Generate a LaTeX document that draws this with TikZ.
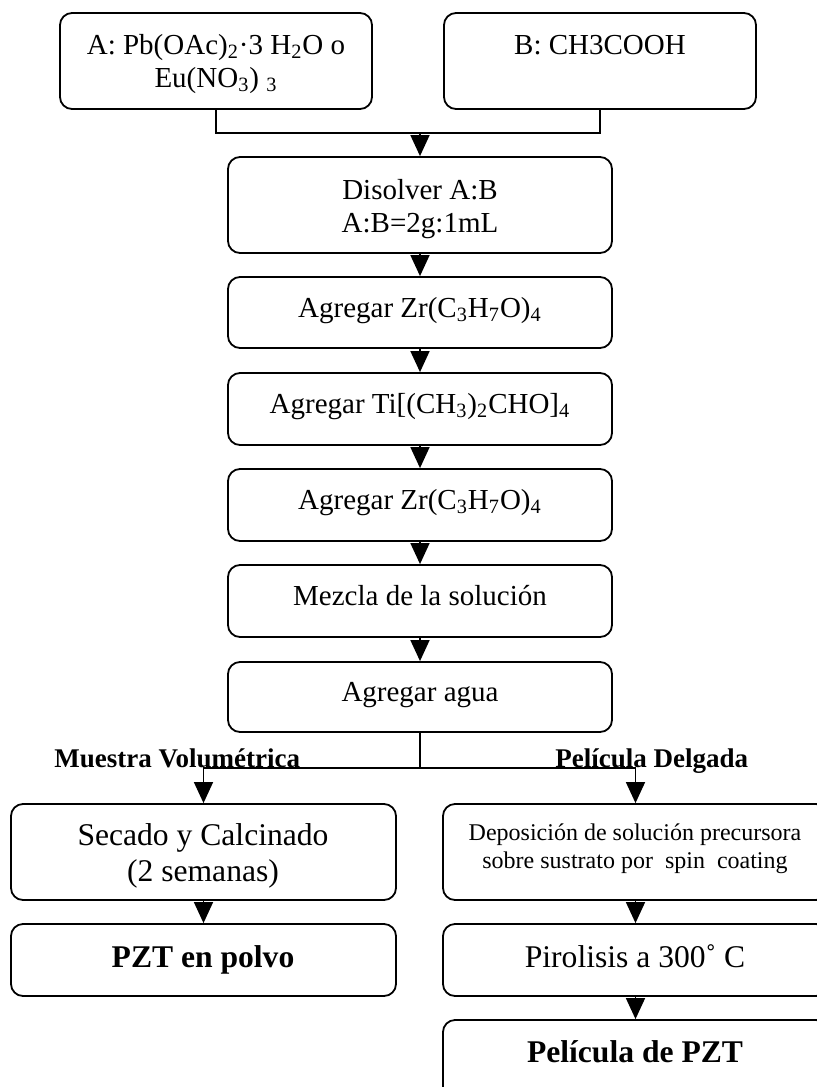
\documentclass[tikz,border=0pt]{standalone}
\usepackage{fontspec}
\setmainfont{Liberation Serif}
\usetikzlibrary{arrows.meta}
\begin{document}
\begin{tikzpicture}[x=0.5pt,y=-0.5pt,
  box/.style={draw, line width=0.9pt, rounded corners=6pt, inner sep=0pt, fill=white, minimum width=#1},
  box/.default=192pt,
  conn/.style={line width=0.75pt},
  arr/.style={line width=0.75pt, -{Triangle[length=10.5pt,width=9.5pt]}},
  txt/.style={anchor=base, inner sep=0pt, font=\fontsize{14.5}{16}\selectfont},
  bigtxt/.style={anchor=base, inner sep=0pt, font=\fontsize{15.8}{18}\selectfont},
  smalltxt/.style={anchor=base, inner sep=0pt, font=\fontsize{12}{14}\selectfont},
  labtxt/.style={anchor=base west, inner sep=0pt, font=\fontsize{13.5}{15}\selectfont\bfseries}]
\useasboundingbox (0,0) rectangle (817,1087);
\clip (0,0) rectangle (817,1087);
% boxes
\node[box=156pt, minimum height=48pt] (A) at (216,61) {};
\node[box=156pt, minimum height=48pt] (B) at (600,61) {};
\node[box, minimum height=48pt] (D) at (420,205) {};
\node[box, minimum height=35.5pt] (Z1) at (420,312.5) {};
\node[box, minimum height=36pt] (Ti) at (420,409) {};
\node[box, minimum height=36pt] (Z2) at (420,505) {};
\node[box, minimum height=36pt] (M) at (420,601) {};
\node[box, minimum height=35pt] (W) at (420,697) {};
\node[box=192.5pt, minimum height=48pt] (S) at (203.5,852) {};
\node[box=192.5pt, minimum height=36pt] (P) at (203.5,960) {};
\node[box=192.5pt, minimum height=48pt] (Dep) at (635.5,852) {};
\node[box=192.5pt, minimum height=36pt] (Pir) at (635.5,960) {};
\node[box=192.5pt, minimum height=48pt] (Pel) at (635.5,1068) {};
% texts
\node[txt] (tA1) at (216,54) {A: Pb(OAc)\textsubscript{2}·3 H\textsubscript{2}O o};
\node[txt] (tA2) at (216,87) {Eu(NO\textsubscript{3}) \textsubscript{3}};
\node[txt] (tB) at (600,54) {B: CH3COOH};
\node[txt] (tD1) at (420,199) {Disolver A:B};
\node[txt] (tD2) at (420,232) {A:B=2g:1mL};
\node[txt] (tZ1) at (420,317) {Agregar Zr(C\textsubscript{3}H\textsubscript{7}O)\textsubscript{4}};
\node[txt] (tTi) at (420,413) {Agregar Ti[(CH\textsubscript{3})\textsubscript{2}CHO]\textsubscript{4}};
\node[txt] (tZ2) at (420,509) {Agregar Zr(C\textsubscript{3}H\textsubscript{7}O)\textsubscript{4}};
\node[txt] (tM) at (420,605) {Mezcla de la solución};
\node[txt] (tW) at (420,701) {Agregar agua};
\node[bigtxt] (tS1) at (203,845) {Secado y Calcinado};
\node[bigtxt] (tS2) at (203,881) {(2 semanas)};
\node[bigtxt, font=\fontsize{15.8}{18}\selectfont\bfseries] (tP) at (203,967) {PZT en polvo};
\node[smalltxt] (tDep1) at (635,840) {Deposición de solución precursora};
\node[smalltxt] (tDep2) at (635,868) {sobre sustrato por~ spin~ coating};
\node[bigtxt] (tPir) at (635,967) {Pirolisis a 300˚ C};
\node[bigtxt, font=\fontsize{15.8}{18}\selectfont\bfseries] (tPel) at (635,1062) {Película de PZT};
% connectors
\coordinate (j1) at (420,133);
\draw[conn] (A.south) |- (j1) -| (B.south);
\draw[arr] (j1) -- (D.north);
\draw[arr] (D.south) -- (Z1.north);
\draw[arr] (Z1.south) -- (Ti.north);
\draw[arr] (Ti.south) -- (Z2.north);
\draw[arr] (Z2.south) -- (M.north);
\draw[arr] (M.south) -- (W.north);
\coordinate (j2) at (420,768);
\draw[conn] (W.south) -- (j2);
\draw[arr] (j2) -| (S.north);
\draw[arr] (j2) -| (Dep.north);
\draw[arr] (S.south) -- (P.north);
\draw[arr] (Dep.south) -- (Pir.north);
\draw[arr] (Pir.south) -- (Pel.north);
% labels
\node[labtxt] (lMV) at (54,767) {Muestra Volumétrica};
\node[labtxt] (lPD) at (555,767) {Película Delgada};
\end{tikzpicture}
\end{document}
